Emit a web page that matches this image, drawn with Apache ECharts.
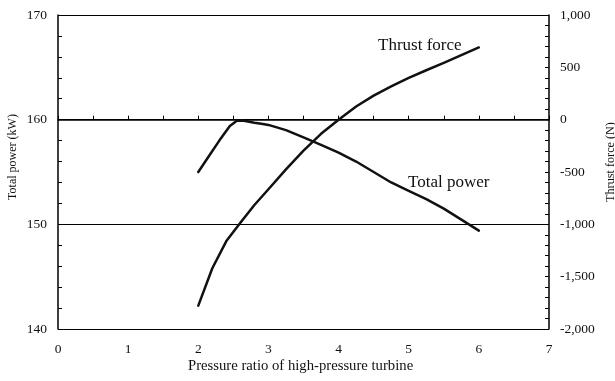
<!DOCTYPE html>
<html>
<head>
<meta charset="utf-8">
<script src="https://cdn.jsdelivr.net/npm/echarts@6/dist/echarts.min.js"></script>
<style>html,body{margin:0;padding:0;background:#fff;}#c{width:615px;height:381px;}</style>
</head>
<body>
<div id="c"></div>
<script>
const powerX = [2.0, 2.15, 2.3, 2.45, 2.55, 2.65, 2.8, 2.9, 3.0, 3.25, 3.5, 3.75, 4.0, 4.25, 4.5, 4.75, 5.0, 5.25, 5.5, 5.75, 6.0];
const powerY = [155.0, 156.5, 158.0, 159.4, 159.9, 159.9, 159.7, 159.6, 159.5, 159.0, 158.3, 157.6, 156.85, 156.0, 155.0, 154.0, 153.2, 152.4, 151.5, 150.45, 149.4];
const thrustX = [2.0, 2.2, 2.4, 2.6, 2.8, 3.0, 3.25, 3.5, 3.75, 4.0, 4.25, 4.5, 4.75, 5.0, 5.25, 5.5, 5.75, 6.0];
const thrustY = [-1777, -1420, -1160, -985, -815, -665, -475, -295, -135, 0, 126, 230, 318, 400, 472, 542, 616, 690];
const xTitle = 'Pressure ratio of high-pressure turbine';
const leftTitle = 'Total power (kW)';
const rightTitle = 'Thrust force (N)';
const powerLabel = 'Total power';
const thrustLabel = 'Thrust force';

const font = 'Liberation Serif';
const chart = echarts.init(document.getElementById('c'));
const axisLine = {show: true, lineStyle: {color: '#000', width: 1.5}};
chart.setOption({
  animation: false,
  backgroundColor: '#fff',
  grid: {left: 58, right: 66, top: 15, bottom: 52, containLabel: false},
  xAxis: {
    type: 'value', min: 0, max: 7, interval: 1,
    axisLine: axisLine,
    axisTick: {show: true, inside: true, length: 4, lineStyle: {color: '#000', width: 1}},
    minorTick: {show: true, splitNumber: 2, length: 4, lineStyle: {color: '#000', width: 1}},
    splitLine: {show: false},
    axisLabel: {color: '#111', fontFamily: font, fontSize: 13.5, margin: 13}
  },
  yAxis: [{
    type: 'value', min: 140, max: 170, interval: 10, position: 'left',
    axisLine: axisLine,
    axisTick: {show: true, inside: true, length: 4, lineStyle: {color: '#000', width: 1}},
    minorTick: {show: true, splitNumber: 5, length: 4, lineStyle: {color: '#000', width: 1}},
    splitLine: {show: true, lineStyle: {color: '#000', width: 1}},
    axisLabel: {color: '#111', fontFamily: font, fontSize: 13.5, margin: 11}
  }, {
    type: 'value', min: -2000, max: 1000, interval: 500, position: 'right',
    axisLine: axisLine,
    axisTick: {show: true, inside: true, length: 4, lineStyle: {color: '#000', width: 1}},
    minorTick: {show: true, splitNumber: 5, length: 4, lineStyle: {color: '#000', width: 1}},
    splitLine: {show: false},
    axisLabel: {color: '#111', fontFamily: font, fontSize: 13.5, margin: 11,
      formatter: v => v.toLocaleString('en-US')}
  }],
  series: [{
    type: 'line', yAxisIndex: 0, showSymbol: false, smooth: false,
    lineStyle: {color: '#111', width: 2.5, join: 'round', cap: 'round'},
    data: powerX.map((x, i) => [x, powerY[i]])
  }, {
    type: 'line', yAxisIndex: 1, showSymbol: false, smooth: false,
    lineStyle: {color: '#111', width: 2.5, join: 'round', cap: 'round'},
    data: thrustX.map((x, i) => [x, thrustY[i]])
  }],
  graphic: [
    {type: 'text', left: 188, top: 359, style: {text: xTitle, font: '14.7px "Liberation Serif"', fill: '#111'}},
    {type: 'text', x: 13, y: 157, rotation: Math.PI / 2,
      style: {text: leftTitle, font: '12px "Liberation Serif"', fill: '#111', align: 'center', verticalAlign: 'middle'}},
    {type: 'text', x: 611, y: 162, rotation: Math.PI / 2,
      style: {text: rightTitle, font: '12.2px "Liberation Serif"', fill: '#111', align: 'center', verticalAlign: 'middle'}},
    {type: 'text', x: 378, y: 46, style: {text: thrustLabel, font: '17px "Liberation Serif"', fill: '#111', verticalAlign: 'middle'}},
    {type: 'text', x: 408, y: 183, style: {text: powerLabel, font: '17px "Liberation Serif"', fill: '#111', verticalAlign: 'middle'}}
  ]
});
</script>
</body>
</html>
